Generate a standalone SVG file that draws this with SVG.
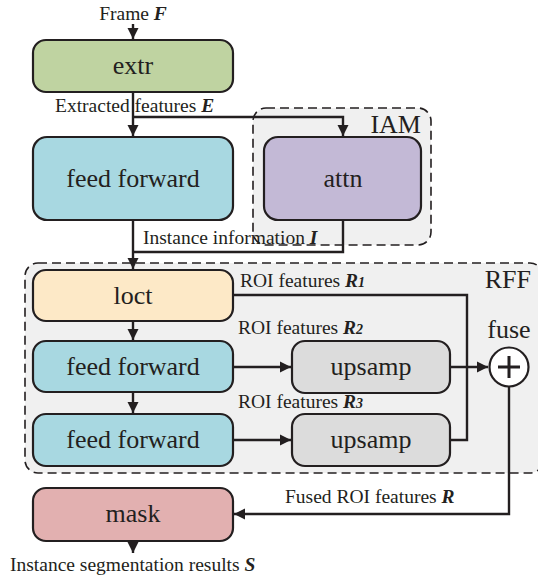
<svg xmlns="http://www.w3.org/2000/svg" width="538" height="583" viewBox="0 0 538 583">
<defs>
<marker id="ah" markerWidth="12" markerHeight="12" refX="11" refY="6" orient="auto" markerUnits="userSpaceOnUse">
<path d="M0,0.5 L11,6 L0,11.5 Z" fill="#231f20"/>
</marker>
<style>
.box{stroke:#231f20;stroke-width:2.2}
.grp{fill:#f0f0f0;stroke:#231f20;stroke-width:1.6;stroke-dasharray:9,5}
.lbl{font-family:"Liberation Serif","Times New Roman",serif;font-size:26px;fill:#231f20;text-anchor:middle}
.sm{font-family:"Liberation Serif","Times New Roman",serif;font-size:19.5px;fill:#231f20}
.bi{font-weight:bold;font-style:italic}
.c{fill:none;stroke:#231f20;stroke-width:2.4}
</style>
</defs>
<rect width="538" height="583" fill="#ffffff"/>

<g id="IAM">
<rect class="grp" x="253" y="108" width="178" height="137" rx="13"/>
<text class="lbl" x="421" y="133" text-anchor="end" style="text-anchor:end">IAM</text>
</g>
<g id="RFF">
<rect class="grp" x="25" y="263" width="518" height="210" rx="13"/>
<text class="lbl" x="531" y="288" style="text-anchor:end">RFF</text>
</g>

<g id="connectors">
<path class="c" d="M133,24 V39" marker-end="url(#ah)"/>
<path class="c" d="M133,92 V136" marker-end="url(#ah)"/>
<path class="c" d="M133,117 H343 V136" marker-end="url(#ah)"/>
<path class="c" d="M133,220 V269" marker-end="url(#ah)"/>
<path class="c" d="M343,220 V252 H133"/>
<path class="c" d="M133,321 V340" marker-end="url(#ah)"/>
<path class="c" d="M133,392 V413" marker-end="url(#ah)"/>
<path class="c" d="M233,367 H291" marker-end="url(#ah)"/>
<path class="c" d="M233,440 H291" marker-end="url(#ah)"/>
<path class="c" d="M450,367 H488" marker-end="url(#ah)"/>
<path class="c" d="M233,295 H467 V440 H450"/>
<path class="c" d="M509,387 V514 H234" marker-end="url(#ah)"/>
<path class="c" d="M133,541 V553" marker-end="url(#ah)"/>
</g>

<g id="extr">
<rect class="box" x="33" y="40" width="200" height="52" rx="13" fill="#bfd3a1"/>
<text class="lbl" x="133" y="74">extr</text>
</g>
<g id="ff1">
<rect class="box" x="33" y="137" width="200" height="83" rx="14" fill="#a8d8e1"/>
<text class="lbl" x="133" y="187">feed forward</text>
</g>
<g id="attn">
<rect class="box" x="264" y="137" width="157" height="83" rx="14" fill="#c3b9d6"/>
<text class="lbl" x="343" y="187">attn</text>
</g>
<g id="loct">
<rect class="box" x="33" y="270" width="200" height="51" rx="13" fill="#fde9c7"/>
<text class="lbl" x="133" y="304">loct</text>
</g>
<g id="ff2">
<rect class="box" x="33" y="341" width="200" height="51" rx="13" fill="#a8d8e1"/>
<text class="lbl" x="133" y="375">feed forward</text>
</g>
<g id="ff3">
<rect class="box" x="33" y="414" width="200" height="52" rx="13" fill="#a8d8e1"/>
<text class="lbl" x="133" y="448">feed forward</text>
</g>
<g id="upsamp1">
<rect class="box" x="292" y="341" width="158" height="52" rx="13" fill="#dcdcdc"/>
<text class="lbl" x="371" y="375">upsamp</text>
</g>
<g id="upsamp2">
<rect class="box" x="292" y="414" width="158" height="52" rx="13" fill="#dcdcdc"/>
<text class="lbl" x="371" y="448">upsamp</text>
</g>
<g id="fuse">
<circle cx="509" cy="367" r="19.5" fill="#ffffff" stroke="#231f20" stroke-width="2.2"/>
<path d="M498,367 H520 M509,356 V378" stroke="#231f20" stroke-width="3" fill="none"/>
<text class="lbl" x="509" y="338">fuse</text>
</g>
<g id="mask">
<rect class="box" x="33" y="488" width="200" height="53" rx="13" fill="#e2b0b0"/>
<text class="lbl" x="133" y="522">mask</text>
</g>

<g id="labels">
<text class="sm" x="133" y="20" text-anchor="middle">Frame <tspan class="bi">F</tspan></text>
<text class="sm" x="55" y="112">Extracted features <tspan class="bi">E</tspan></text>
<text class="sm" x="143" y="244">Instance information <tspan class="bi">I</tspan></text>
<text class="sm" x="240" y="287">ROI features <tspan class="bi">R</tspan><tspan class="bi" font-size="14">1</tspan></text>
<text class="sm" x="238" y="334">ROI features <tspan class="bi">R</tspan><tspan class="bi" font-size="14">2</tspan></text>
<text class="sm" x="238" y="408">ROI features <tspan class="bi">R</tspan><tspan class="bi" font-size="14">3</tspan></text>
<text class="sm" x="285" y="503">Fused ROI features <tspan class="bi">R</tspan></text>
<text class="sm" x="10" y="571">Instance segmentation results <tspan class="bi">S</tspan></text>
</g>
</svg>
